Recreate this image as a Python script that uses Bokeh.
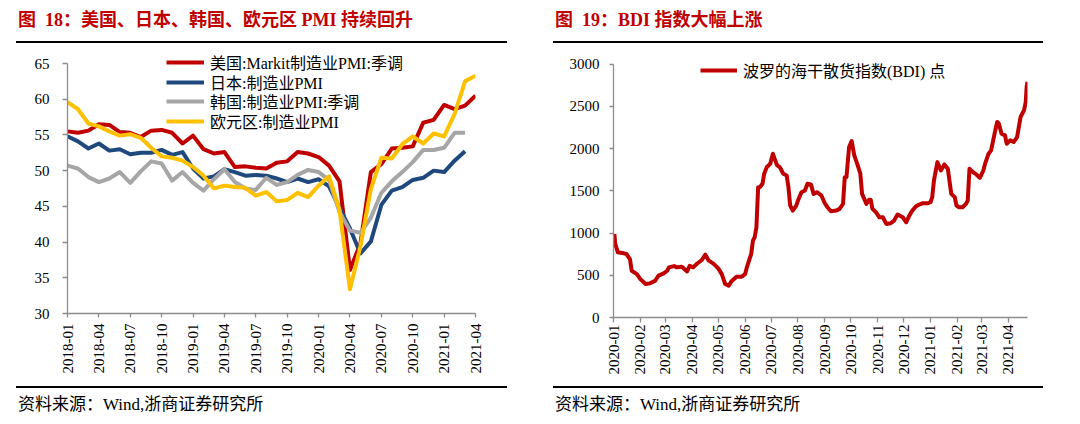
import pandas as pd
from math import pi
from bokeh.plotting import figure
from bokeh.models import (Range1d, FixedTicker, Legend, LegendItem, Div,
                          DatetimeTickFormatter, ColumnDataSource)
from bokeh.layouts import row, column
from bokeh.embed import file_html
from bokeh.resources import INLINE

# ---------------- data: chart 18 (monthly PMI, 2018-01 .. 2021-04) ----------------
pmi_tick_labels = ["2018-01", "2018-04", "2018-07", "2018-10", "2019-01", "2019-04", "2019-07",
                   "2019-10", "2020-01", "2020-04", "2020-07", "2020-10", "2021-01", "2021-04"]
us_pmi = [55.5, 55.3, 55.6, 56.5, 56.4, 55.4, 55.3, 54.7, 55.6, 55.7, 55.3, 53.8,
          54.9, 53.0, 52.4, 52.6, 50.5, 50.6, 50.4, 50.3, 51.1, 51.3, 52.6, 52.4,
          51.9, 50.7, 48.5, 36.1, 39.8, 49.8, 50.9, 53.1, 53.2, 53.4, 56.7, 57.1,
          59.2, 58.6, 59.1, 60.5]
jp_pmi = [54.8, 54.1, 53.1, 53.8, 52.8, 53.0, 52.3, 52.5, 52.5, 52.9, 52.2, 52.6,
          50.3, 48.9, 49.2, 50.2, 49.8, 49.3, 49.4, 49.3, 48.9, 48.4, 48.9, 48.4,
          48.8, 47.8, 44.8, 41.9, 38.4, 40.1, 45.2, 47.2, 47.7, 48.7, 49.0, 50.0,
          49.8, 51.4, 52.7]
kr_pmi = [50.7, 50.3, 49.1, 48.4, 48.9, 49.8, 48.3, 49.9, 51.3, 51.0, 48.6, 49.8,
          48.3, 47.2, 48.8, 50.2, 48.4, 47.5, 47.3, 49.0, 48.0, 48.4, 49.4, 50.1,
          49.8, 48.7, 44.2, 41.6, 41.3, 43.4, 46.9, 48.5, 49.8, 51.2, 52.9, 52.9,
          53.2, 55.3, 55.3]
ez_pmi = [59.6, 58.6, 56.6, 56.2, 55.5, 54.9, 55.1, 54.6, 53.2, 52.0, 51.8, 51.4,
          50.5, 49.3, 47.5, 47.9, 47.7, 47.6, 46.5, 47.0, 45.7, 45.9, 46.9, 46.3,
          47.9, 49.2, 44.5, 33.4, 39.4, 47.4, 51.8, 51.7, 53.7, 54.8, 53.8, 55.2,
          54.8, 57.9, 62.5, 63.3]
pmi_names = ["美国:Markit制造业PMI:季调", "日本:制造业PMI", "韩国:制造业PMI:季调", "欧元区:制造业PMI"]

# ---------------- data: chart 19 (BDI daily) ----------------
bdi_dates = ["2020-01-02", "2020-01-03", "2020-01-06", "2020-01-13", "2020-01-16", "2020-01-20",
             "2020-01-22", "2020-01-28", "2020-02-01", "2020-02-07", "2020-02-12", "2020-02-18",
             "2020-02-22", "2020-02-28", "2020-03-03", "2020-03-05", "2020-03-11", "2020-03-14",
             "2020-03-20", "2020-03-26", "2020-03-29", "2020-04-02", "2020-04-06", "2020-04-12",
             "2020-04-16", "2020-04-20", "2020-04-25", "2020-05-01", "2020-05-05", "2020-05-09",
             "2020-05-13", "2020-05-16", "2020-05-22", "2020-05-28", "2020-06-01", "2020-06-03",
             "2020-06-06", "2020-06-08", "2020-06-10", "2020-06-12", "2020-06-14", "2020-06-16",
             "2020-06-18", "2020-06-21", "2020-06-23", "2020-06-26", "2020-06-30", "2020-07-03",
             "2020-07-05", "2020-07-08", "2020-07-11", "2020-07-15", "2020-07-19", "2020-07-21",
             "2020-07-23", "2020-07-26", "2020-07-30", "2020-08-01", "2020-08-05", "2020-08-09",
             "2020-08-12", "2020-08-16", "2020-08-19", "2020-08-23", "2020-08-28", "2020-09-01",
             "2020-09-04", "2020-09-08", "2020-09-14", "2020-09-18", "2020-09-22", "2020-09-24",
             "2020-09-26", "2020-09-29", "2020-10-02", "2020-10-05", "2020-10-09", "2020-10-12",
             "2020-10-14", "2020-10-19", "2020-10-22", "2020-10-24", "2020-10-26", "2020-10-30",
             "2020-11-03", "2020-11-07", "2020-11-11", "2020-11-16", "2020-11-20", "2020-11-24",
             "2020-11-30", "2020-12-04", "2020-12-07", "2020-12-11", "2020-12-15", "2020-12-19",
             "2020-12-23", "2020-12-29", "2021-01-01", "2021-01-03", "2021-01-05", "2021-01-09",
             "2021-01-13", "2021-01-17", "2021-01-21", "2021-01-25", "2021-01-29", "2021-01-31",
             "2021-02-03", "2021-02-07", "2021-02-11", "2021-02-13", "2021-02-15", "2021-02-19",
             "2021-02-23", "2021-02-27", "2021-03-03", "2021-03-05", "2021-03-09", "2021-03-12",
             "2021-03-16", "2021-03-19", "2021-03-21", "2021-03-24", "2021-03-28", "2021-03-30",
             "2021-04-03", "2021-04-07", "2021-04-11", "2021-04-15", "2021-04-19", "2021-04-21",
             "2021-04-22", "2021-04-23"]
bdi_values = [989, 871, 772, 760, 752, 692, 554, 514, 455, 396,
              404, 435, 495, 522, 554, 594, 609, 594, 601, 546,
              613, 594, 633, 681, 744, 673, 641, 582, 514, 396,
              376, 427, 483, 483, 514, 594, 692, 752, 910, 950,
              1068, 1543, 1543, 1583, 1702, 1781, 1820, 1939, 1880, 1801,
              1781, 1702, 1682, 1543, 1326, 1266, 1326, 1385, 1484, 1504,
              1583, 1575, 1464, 1484, 1445, 1353, 1306, 1258, 1266, 1286,
              1346, 1662, 1662, 2018, 2090, 1919, 1801, 1702, 1464, 1346,
              1393, 1393, 1286, 1247, 1187, 1187, 1108, 1116, 1148, 1219,
              1187, 1128, 1195, 1266, 1314, 1338, 1353, 1353, 1365, 1425,
              1623, 1840, 1741, 1813, 1761, 1464, 1425, 1326, 1306, 1306,
              1346, 1385, 1761, 1722, 1694, 1654, 1741, 1820, 1939, 1979,
              2177, 2315, 2295, 2177, 2157, 2058, 2098, 2078, 2137, 2375,
              2454, 2553, 2731, 2790]
bdi_tick_labels = ["2020-01", "2020-02", "2020-03", "2020-04", "2020-05", "2020-06", "2020-07",
                   "2020-08", "2020-09", "2020-10", "2020-11", "2020-12", "2021-01", "2021-02",
                   "2021-03", "2021-04"]
bdi_name = "波罗的海干散货指数(BDI) 点"

# ---------------- style ----------------
FONT = "Liberation Serif, Noto Sans CJK SC"
CSS_FONT = "'Liberation Serif','Noto Sans CJK SC'"
AXIS_C = "#8C8C8C"
RED = "#C00000"
NAVY = "#1F497D"
GRAY = "#A6A6A6"
YELLOW = "#FFC000"
TITLE_C = "#C00000"


def title_div(text, width, left):
    html = (f'<div style="box-sizing:border-box;width:{width}px;height:35px;'
            f'border-bottom:2px solid #000;padding:2px 0 0 2px;line-height:20px;'
            f'font-family:{CSS_FONT};font-size:18px;font-weight:bold;color:{TITLE_C};'
            f'white-space:nowrap;">{text}</div>')
    return Div(text=html, width=width, height=35, margin=(0, 0, 0, left))


def footer_div(text, width, left):
    html = (f'<div style="box-sizing:border-box;width:{width}px;height:28px;'
            f'border-top:2px solid #000;padding:7px 0 0 2px;line-height:20px;'
            f'font-family:{CSS_FONT};font-size:17px;color:#000;white-space:nowrap;">{text}</div>')
    return Div(text=html, width=width, height=28, margin=(0, 0, 0, left))


def style_axes(p, x_tick_out, x_standoff, y_standoff, y_tick_out):
    p.outline_line_color = None
    p.xgrid.grid_line_color = None
    p.ygrid.grid_line_color = None
    p.background_fill_color = "white"
    p.border_fill_color = "white"
    for ax in (p.xaxis[0], p.yaxis[0]):
        ax.axis_line_color = AXIS_C
        ax.axis_line_width = 1.3
        ax.major_tick_line_color = AXIS_C
        ax.major_tick_line_width = 1.3
        ax.minor_tick_line_color = None
        ax.major_tick_in = 0
        ax.major_label_text_font = "Liberation Serif"
        ax.major_label_text_color = "#000000"
    p.xaxis[0].major_tick_out = x_tick_out
    p.xaxis[0].major_label_standoff = x_standoff
    p.xaxis[0].major_label_orientation = pi / 2
    p.xaxis[0].major_label_text_font_size = "15px"
    p.yaxis[0].major_tick_out = y_tick_out
    p.yaxis[0].major_label_standoff = y_standoff
    p.yaxis[0].major_label_text_font_size = "15px"


def make_legend(items, loc, glyph_w):
    lg = Legend(items=items, location=loc, orientation="vertical")
    lg.glyph_width = glyph_w
    lg.glyph_height = 20
    lg.label_height = 20
    lg.label_standoff = 6
    lg.spacing = 0
    lg.padding = 0
    lg.margin = 0
    lg.border_line_color = None
    lg.background_fill_alpha = 0
    lg.label_text_font = FONT
    lg.label_text_font_size = "16px"
    lg.label_text_color = "#000000"
    return lg


# ---------------- chart 18 ----------------
# y range reaches a little above 65 so the legend sits inside the frame; the axis line stops at 65
p1 = figure(width=532, height=343, output_backend="svg", toolbar_location=None,
            x_range=Range1d(0, 39), y_range=Range1d(30, 67.8),
            min_border_left=59, min_border_right=65, min_border_top=0, min_border_bottom=73)
style_axes(p1, x_tick_out=4, x_standoff=6, y_standoff=13, y_tick_out=5)
p1.xaxis[0].ticker = FixedTicker(ticks=[3 * i for i in range(len(pmi_tick_labels))])
p1.xaxis[0].major_label_overrides = {3 * i: lab for i, lab in enumerate(pmi_tick_labels)}
p1.yaxis[0].ticker = FixedTicker(ticks=[30, 35, 40, 45, 50, 55, 60, 65])
p1.yaxis[0].bounds = (30, 65)

renderers = []
for series, color in ((us_pmi, RED), (jp_pmi, NAVY), (kr_pmi, GRAY), (ez_pmi, YELLOW)):
    src = ColumnDataSource(dict(x=list(range(len(series))), y=series))
    r = p1.line("x", "y", source=src, line_color=color, line_width=4, line_join="round")
    renderers.append(r)
# one single-item legend per row so the rows can sit 20 px apart as in the reference
legend_bottoms = [239, 219, 200, 180]
for name, r, vy in zip(pmi_names, renderers, legend_bottoms):
    p1.add_layout(make_legend([LegendItem(label=name, renderers=[r])], (99, vy), 38))

# ---------------- chart 19 ----------------
bdi_x = pd.to_datetime(bdi_dates)
x_start = pd.Timestamp("2020-01-01")
x_end = bdi_x[-1]
p2 = figure(width=530, height=343, output_backend="svg", toolbar_location=None,
            x_axis_type="datetime", x_range=Range1d(x_start, x_end), y_range=Range1d(0, 3150),
            min_border_left=73, min_border_right=43, min_border_top=8, min_border_bottom=69)
style_axes(p2, x_tick_out=5, x_standoff=2, y_standoff=10, y_tick_out=4)
tick_ms = [pd.Timestamp(t + "-01").value // 10**6 for t in bdi_tick_labels]
p2.xaxis[0].ticker = FixedTicker(ticks=tick_ms)
fmt = "%Y-%m"
p2.xaxis[0].formatter = DatetimeTickFormatter(
    microseconds=fmt, milliseconds=fmt, seconds=fmt, minsec=fmt, minutes=fmt,
    hourmin=fmt, hours=fmt, days=fmt, months=fmt, years=fmt)
p2.yaxis[0].ticker = FixedTicker(ticks=[0, 500, 1000, 1500, 2000, 2500, 3000])
p2.yaxis[0].bounds = (0, 3000)

src2 = ColumnDataSource(dict(x=bdi_x, y=bdi_values))
r2 = p2.line("x", "y", source=src2, line_color=RED, line_width=4, line_join="round")
p2.add_layout(make_legend([LegendItem(label=bdi_name, renderers=[r2])], (87, 235), 37))

# ---------------- layout ----------------
left = column(title_div("图&ensp;18：美国、日本、韩国、欧元区 PMI 持续回升", 491, 8), p1,
              footer_div("资料来源：Wind,浙商证券研究所", 491, 8), spacing=0)
right = column(title_div("图&ensp;19：BDI 指数大幅上涨", 490, 13), p2,
               footer_div("资料来源：Wind,浙商证券研究所", 490, 13), spacing=0)
layout = row(left, right, spacing=0, margin=(8, 0, 0, 8))

open("out.html", "w").write(file_html(layout, INLINE))
